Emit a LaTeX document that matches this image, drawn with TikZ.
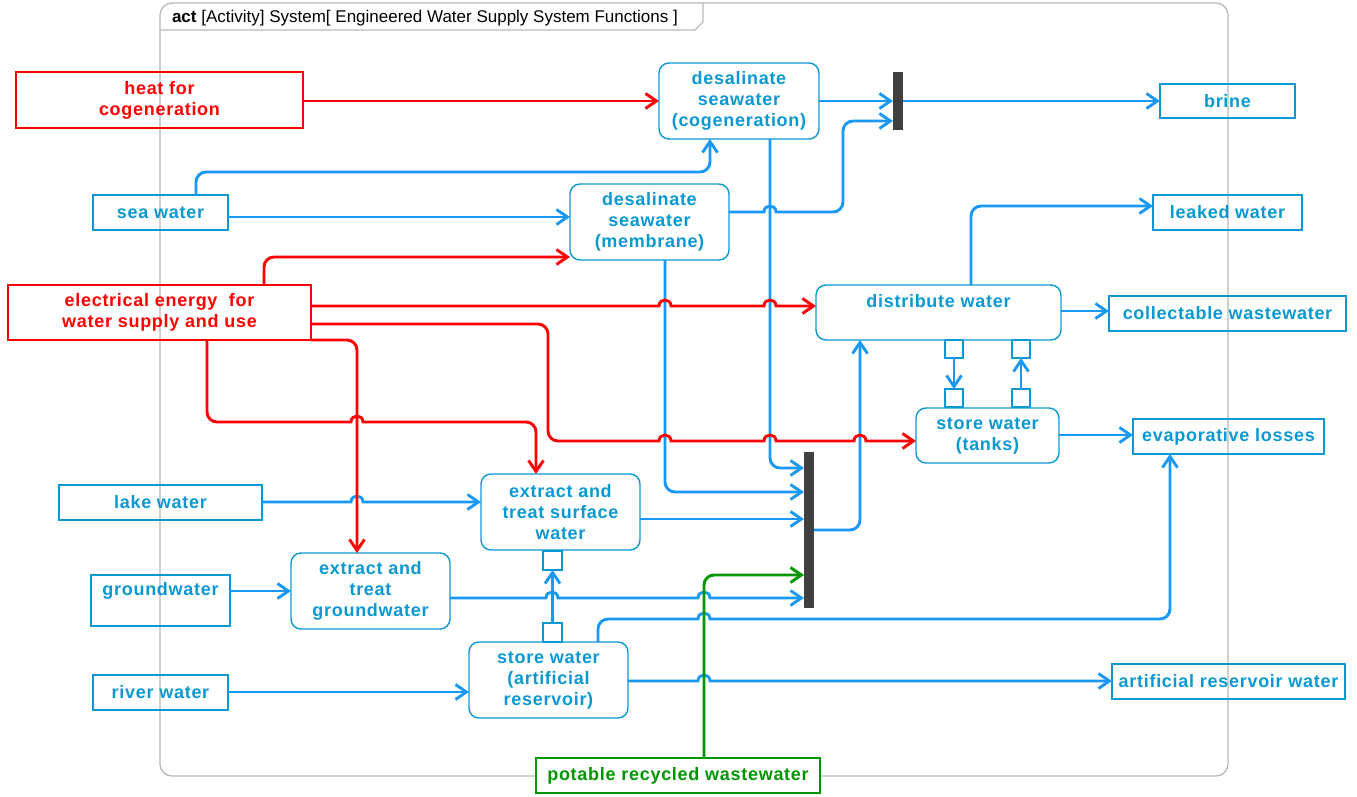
\documentclass[tikz,border=0pt]{standalone}
\usepackage{fontspec}
\setmainfont{Liberation Sans}
\newfontfamily\lbf{Liberation Sans}[LetterSpace=4]
\usetikzlibrary{arrows.meta}
\definecolor{tblue}{RGB}{10,152,210}
\definecolor{lblue}{RGB}{25,152,245}
\definecolor{gr}{RGB}{0,150,0}
\definecolor{bargrey}{RGB}{64,64,64}
\definecolor{frame}{RGB}{185,185,185}
\tikzset{
 every node/.style={inner sep=0pt, outer sep=0pt},
 lbl/.style={font=\lbf\bfseries\fontsize{18}{21}\selectfont, align=center},
 act/.style={lbl, draw=tblue, line width=1.4pt, rounded corners=10pt, text=tblue},
 par/.style={lbl, draw=tblue, line width=1.4pt, text=tblue},
 rpar/.style={lbl, draw=red, line width=1.4pt, text=red},
 gpar/.style={lbl, draw=gr, line width=1.4pt, text=gr, fill=white},
 pinbox/.style={draw=tblue, fill=white, line width=1.1pt, minimum size=18pt},
 joinbar/.style={fill=bargrey, minimum width=10pt},
 bl/.style={draw=lblue, line width=2.9pt, -{Straight Barb[length=11pt,width=15pt]}, rounded corners=10pt},
 rl/.style={bl, draw=red},
 gl/.style={bl, draw=gr},
 jmp/.style args={#1,#2}{insert path={[sharp corners] -- (#1-6,#2) .. controls (#1-6,#2-8) and (#1+6,#2-8) .. (#1+6,#2) [rounded corners=10pt]}},
}
\begin{document}
\begin{tikzpicture}[x=1pt,y=-1pt]
\useasboundingbox (0,0) rectangle (1357,797);
% frame
\draw[frame, line width=1.3pt, rounded corners=12pt] (160,3) rectangle (1228,776);
\draw[frame, line width=1.3pt] (160,30) -- (695,30) -- (703,22) -- (703,3);
\node[anchor=base west, font=\fontsize{17}{20}\selectfont] (title) at (172,23) {\textbf{act} [Activity] System[ Engineered Water Supply System Functions ]};

% external parameter nodes
\node[rpar, minimum width=287pt, minimum height=56pt] (heat) at (159.5,100) {heat for\\cogeneration};
\node[par, minimum width=135pt, minimum height=35pt] (sea) at (160.5,212.5) {sea water};
\node[rpar, minimum width=303pt, minimum height=55pt] (elec) at (159.5,312.5) {electrical energy\ \ for\\water supply and use};
\node[par, minimum width=203pt, minimum height=35pt] (lake) at (160.5,502.5) {lake water};
\node[par, minimum width=139pt, minimum height=51pt] (ground) at (160.5,600.5) {};
\node[lbl, text=tblue] (groundT) at (160.5,591) {groundwater};
\node[par, minimum width=135pt, minimum height=35pt] (river) at (160.5,692.5) {river water};
\node[par, minimum width=135pt, minimum height=34pt] (brine) at (1227.5,101) {brine};
\node[par, minimum width=149pt, minimum height=35pt] (leaked) at (1227.5,212.5) {leaked water};
\node[par, minimum width=237pt, minimum height=35pt] (coll) at (1227.5,313.5) {collectable wastewater};
\node[par, minimum width=191pt, minimum height=35pt] (evap) at (1228.5,436.5) {evaporative losses};
\node[par, minimum width=233pt, minimum height=35pt] (arw) at (1228.5,681.5) {artificial reservoir water};
\node[gpar, minimum width=284pt, minimum height=35pt] (potable) at (678,775.5) {potable recycled wastewater};

% actions
\node[act, minimum width=160pt, minimum height=76pt] (dc) at (739,101) {desalinate\\seawater\\(cogeneration)};
\node[act, minimum width=159pt, minimum height=76pt] (dm) at (649.5,222) {desalinate\\seawater\\(membrane)};
\node[act, minimum width=245pt, minimum height=55pt] (dist) at (938.5,312.5) {};
\node[lbl, text=tblue] (distT) at (938.5,301) {distribute water};
\node[act, minimum width=143pt, minimum height=55pt] (tanks) at (987.5,435.5) {store water\\(tanks)};
\node[act, minimum width=159pt, minimum height=76pt] (surf) at (560.5,512) {extract and\\treat surface\\water};
\node[act, minimum width=159pt, minimum height=76pt] (gw) at (370.5,591) {extract and\\treat\\groundwater};
\node[act, minimum width=159pt, minimum height=76pt] (res) at (548.5,680) {store water\\(artificial\\reservoir)};

% pins
\node[pinbox] (pinD1) at (954,349) {};
\node[pinbox] (pinD2) at (1021,349) {};
\node[pinbox] (pinT1) at (954,398) {};
\node[pinbox] (pinT2) at (1021,398) {};
\node[pinbox, minimum size=19pt] (pinS) at (552.5,560.5) {};
\node[pinbox, minimum size=19pt] (pinR) at (552.5,632.5) {};

% join bars
\node[joinbar, minimum height=58pt] (bar1) at (898,101) {};
\node[joinbar, minimum height=156pt] (bar2) at (809,530) {};

% blue flows
\draw[bl] (dc.east |- 0,101) -- (bar1.west |- 0,101);
\draw[bl] (dm.east |- 0,212) [jmp={770,212}] -- (843,212) -- (843,121) -- (bar1.west |- 0,121);
\draw[bl] (bar1.east |- 0,101) -- (brine.west |- 0,101);
\draw[bl] (sea.north -| 196,0) -- (196,172) -- (710,172) -- (dc.south -| 710,0);
\draw[bl] (sea.east |- 0,217) -- (dm.west |- 0,217);
\draw[bl] (dc.south -| 770,0) -- (770,468) -- (bar2.west |- 0,468);
\draw[bl] (dm.south -| 665,0) -- (665,492) -- (bar2.west |- 0,492);
\draw[bl] (surf.east |- 0,519) -- (bar2.west |- 0,519);
\draw[bl] (bar2.east |- 0,530) -- (860,530) -- (dist.south -| 860,0);
\draw[bl] (dist.north -| 971,0) -- (971,206) -- (leaked.west |- 0,206);
\draw[bl] (dist.east |- 0,311) -- (coll.west |- 0,311);
\draw[bl] (pinD1.south) -- (pinT1.north);
\draw[bl] (pinT2.north) -- (pinD2.south);
\draw[bl] (tanks.east |- 0,435) -- (evap.west |- 0,435);
\draw[bl] (lake.east |- 0,502) [jmp={357,502}] -- (surf.west |- 0,502);
\draw[bl] (ground.east |- 0,591) -- (gw.west |- 0,591);
\draw[bl] (gw.east |- 0,598) [jmp={552,598}] [jmp={704,598}] -- (bar2.west |- 0,598);
\draw[bl] (pinR.north) -- (pinS.south);
\draw[bl] (river.east |- 0,692) -- (res.west |- 0,692);
\draw[bl] (res.north -| 598,0) -- (598,619) [jmp={704,619}] -- (1170,619) -- (evap.south -| 1170,0);
\draw[bl] (res.east |- 0,681) [jmp={704,681}] -- (arw.west |- 0,681);

% red flows
\draw[rl] (heat.east |- 0,101) -- (dc.west |- 0,101);
\draw[rl] (elec.north -| 264,0) -- (264,257) -- (dm.west |- 0,257);
\draw[rl] (elec.east |- 0,306) [jmp={665,306}] [jmp={770,306}] -- (dist.west |- 0,306);
\draw[rl] (elec.east |- 0,324) -- (548,324) -- (548,441) [jmp={665,441}] [jmp={770,441}] [jmp={860,441}] -- (tanks.west |- 0,441);
\draw[rl] (elec.south east) -- (357,340) -- (gw.north -| 357,0);
\draw[rl] (elec.south -| 207,0) -- (207,422) [jmp={357,422}] -- (536,422) -- (surf.north -| 536,0);

% green flow
\draw[gl] (potable.north -| 704,0) -- (704,575) -- (bar2.west |- 0,575);
\end{tikzpicture}
\end{document}
